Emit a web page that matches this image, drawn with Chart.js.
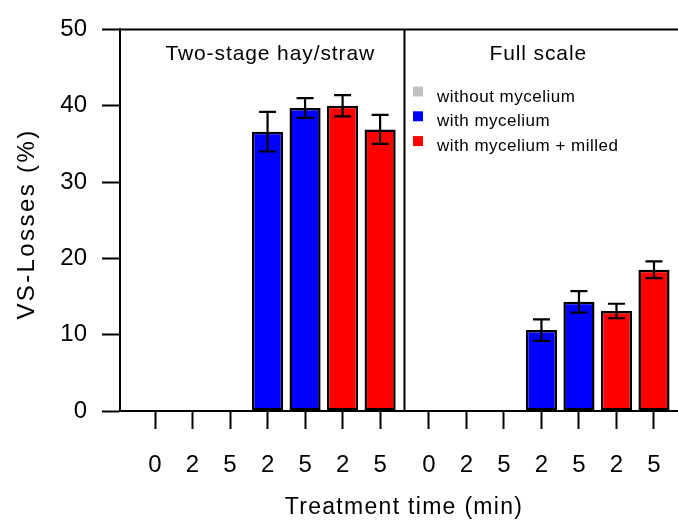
<!DOCTYPE html>
<html>
<head>
<meta charset="utf-8">
<script src="https://cdn.jsdelivr.net/npm/chart.js@4"></script>
<style>
  html, body { margin: 0; padding: 0; background: #fff; }
</style>
</head>
<body>
<canvas id="chart" width="678" height="521"></canvas>
<script>
// ---- data ----
const panelNames = ['Two-stage hay/straw', 'Full scale'];
const timeLabels = ['0', '2', '5', '2', '5', '2', '5'];
const seriesNames = ['without mycelium', 'with mycelium', 'with mycelium + milled'];
const seriesOfBar = [0, 0, 0, 1, 1, 2, 2];

const hayMeans = [0, 0, 0, 36.6, 39.7, 40.0, 36.9];
const hayErrors = [0, 0, 0, 2.6, 1.3, 1.4, 1.9];
const fullMeans = [0, 0, 0, 10.6, 14.3, 13.1, 18.5];
const fullErrors = [0, 0, 0, 1.4, 1.4, 0.95, 1.1];

const yTicks = [0, 10, 20, 30, 40, 50];

// ---- styles / layout ----
const seriesColors = ['#c0c0c0', '#0000ff', '#ff0000'];
const FONT = '"Liberation Sans", Arial, Helvetica, sans-serif';
const PANEL_GAP = 0.3;

const panels = [
  { means: hayMeans, errors: hayErrors },
  { means: fullMeans, errors: fullErrors },
];

const slot = (p, i) => p * (timeLabels.length + PANEL_GAP) + i;
const tickPositions = [];
const tickTexts = [];
panels.forEach((_, p) => timeLabels.forEach((t, i) => {
  tickPositions.push(slot(p, i));
  tickTexts.push(t);
}));

const datasets = seriesNames.map((name, s) => ({
  label: name,
  data: [],
  errors: [],
  backgroundColor: seriesColors[s],
  borderColor: '#000',
  borderWidth: 2.5,
  borderSkipped: false,
  grouped: false,
  categoryPercentage: 1,
  barPercentage: 0.83,
}));
panels.forEach((panel, p) => {
  panel.means.forEach((v, i) => {
    const ds = datasets[seriesOfBar[i]];
    ds.data.push({ x: slot(p, i), y: v });
    ds.errors.push(panel.errors[i]);
  });
});

function spacedText(ctx, text, x, y, spacing) {
  if ('letterSpacing' in ctx) {
    ctx.letterSpacing = spacing + 'px';
    ctx.fillText(text, x, y);
    ctx.letterSpacing = '0px';
  } else {
    ctx.fillText(text, x, y);
  }
}

const extras = {
  id: 'extras',
  afterDatasetsDraw(chart) {
    const { ctx, chartArea: a, scales: { x, y } } = chart;
    ctx.save();

    // error bars
    ctx.strokeStyle = '#000';
    ctx.lineWidth = 2.2;
    chart.data.datasets.forEach((ds, di) => {
      const meta = chart.getDatasetMeta(di);
      meta.data.forEach((bar, i) => {
        const err = ds.errors[i];
        if (!err) return;
        const v = ds.data[i].y;
        const top = y.getPixelForValue(v + err);
        const bot = y.getPixelForValue(v - err);
        const cap = 8.5;
        ctx.beginPath();
        ctx.moveTo(bar.x, top); ctx.lineTo(bar.x, bot);
        ctx.moveTo(bar.x - cap, top); ctx.lineTo(bar.x + cap, top);
        ctx.moveTo(bar.x - cap, bot); ctx.lineTo(bar.x + cap, bot);
        ctx.stroke();
      });
    });

    // frame: top line and panel divider
    ctx.lineWidth = 2;
    ctx.beginPath();
    ctx.moveTo(a.left, a.top); ctx.lineTo(a.right, a.top);
    const div = x.getPixelForValue((slot(0, timeLabels.length - 1) + slot(1, 0)) / 2);
    ctx.moveTo(div, a.top); ctx.lineTo(div, a.bottom);
    ctx.stroke();

    // panel labels
    ctx.fillStyle = '#000';
    ctx.textAlign = 'center';
    ctx.textBaseline = 'alphabetic';
    ctx.font = '21px ' + FONT;
    spacedText(ctx, panelNames[0], (a.left + div) / 2 + 8, 60, 0.9);
    spacedText(ctx, panelNames[1], (div + a.right) / 2 - 3, 60, 0.9);

    // legend
    ctx.textAlign = 'left';
    ctx.font = '17px ' + FONT;
    seriesNames.forEach((name, s) => {
      const cy = 91.5 + s * 24.8;
      ctx.fillStyle = seriesColors[s];
      ctx.fillRect(413, cy - 5, 10, 10);
      ctx.fillStyle = '#000';
      spacedText(ctx, name, 437, cy + 10, 0.5);
    });

    // axis titles
    ctx.textAlign = 'center';
    ctx.font = '23px ' + FONT;
    spacedText(ctx, 'Treatment time (min)', 404, 514, 1.3);

    ctx.save();
    ctx.translate(27, 224);
    ctx.rotate(-Math.PI / 2);
    ctx.textBaseline = 'middle';
    ctx.font = '24px ' + FONT;
    spacedText(ctx, 'VS-Losses (%)', 0, 0, 2.4);
    ctx.restore();

    ctx.restore();
  },
};

new Chart(document.getElementById('chart'), {
  type: 'bar',
  data: { datasets },
  options: {
    responsive: false,
    animation: false,
    layout: { padding: { top: 18, right: 0, left: 0, bottom: 0 } },
    plugins: { legend: { display: false }, tooltip: { enabled: false } },
    scales: {
      x: {
        type: 'linear',
        min: -0.933,
        max: 13.94,
        offset: false,
        grid: { drawOnChartArea: false, offset: false, tickLength: 18, tickWidth: 2, tickColor: '#000' },
        border: { display: true, color: '#000', width: 2 },
        ticks: {
          autoSkip: false,
          maxRotation: 0,
          padding: 22,
          color: '#000',
          font: { family: FONT, size: 24 },
          callback: (v, i) => tickTexts[i],
        },
        afterBuildTicks: (scale) => { scale.ticks = tickPositions.map((v) => ({ value: v })); },
        afterFit: (scale) => {
          scale.height = 110;
          scale.paddingLeft = 0;
          scale.paddingRight = 0;
        },
      },
      y: {
        min: 0,
        max: 50,
        grid: { drawOnChartArea: false, tickLength: 18, tickWidth: 2, tickColor: '#000' },
        border: { display: true, color: '#000', width: 2 },
        ticks: {
          color: '#000',
          padding: 15,
          font: { family: FONT, size: 24 },
          callback: (v) => v,
        },
        afterBuildTicks: (scale) => { scale.ticks = yTicks.map((v) => ({ value: v })); },
        afterFit: (scale) => { scale.width = 120; },
      },
    },
  },
  plugins: [extras],
});
</script>
</body>
</html>
